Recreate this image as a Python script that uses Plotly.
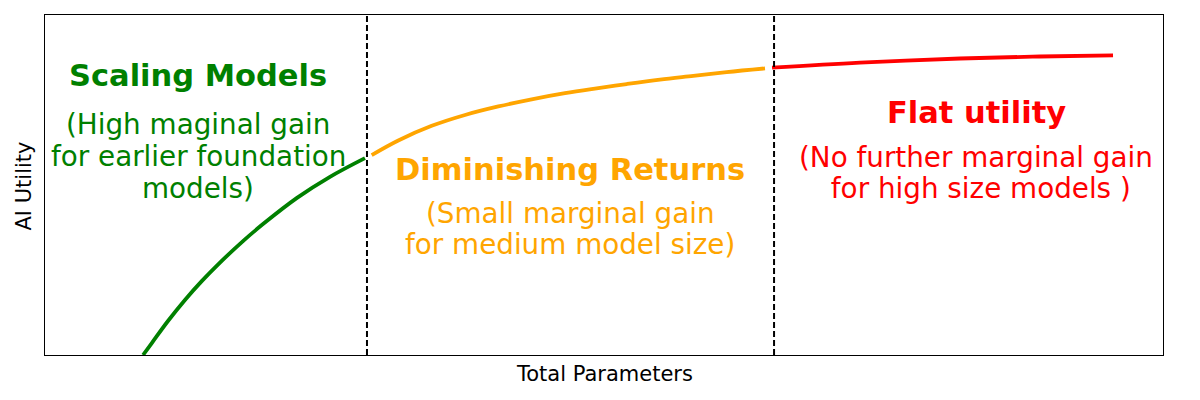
import plotly.graph_objects as go

# Data (x: total parameters, arbitrary units 0-10; y: AI utility 0-1)
green_x = [0.877, 0.957, 1.100, 1.252, 1.404, 1.547, 1.771, 1.950, 2.254, 2.549, 2.862]
green_y = [0.000, 0.036, 0.100, 0.162, 0.218, 0.266, 0.335, 0.385, 0.462, 0.524, 0.579]
orange_x = [2.922, 3.160, 3.459, 3.757, 4.055, 4.353, 4.651, 4.904, 5.203, 5.501, 5.799, 6.097, 6.440]
orange_y = [0.588, 0.631, 0.674, 0.706, 0.731, 0.752, 0.770, 0.783, 0.797, 0.810, 0.821, 0.832, 0.843]
red_x = [6.503, 7.290, 8.184, 8.900, 9.553]
red_y = [0.845, 0.860, 0.872, 0.878, 0.881]
boundaries = [2.880, 6.521]

FONT = "DejaVu Sans"
GREEN, ORANGE, RED = "#008000", "#FFA500", "#FF0000"

fig = go.Figure()
for xs, ys, c in [(green_x, green_y, GREEN), (orange_x, orange_y, ORANGE), (red_x, red_y, RED)]:
    fig.add_trace(go.Scatter(x=xs, y=ys, mode="lines",
                             line=dict(color=c, width=3.8, shape="spline", smoothing=1.0),
                             showlegend=False, hoverinfo="skip"))

for b in boundaries:
    fig.add_shape(type="line", x0=b, x1=b, y0=0, y1=1, xref="x", yref="paper",
                  line=dict(color="black", width=2, dash="6px,3px"))

def px2x(px):
    return (px - 45) / 111.8

def px2y(py):
    return (355 - py) / 340

texts = [
    ("<b>Scaling Models</b>", 198, 75, GREEN, 30.5),
    ("(High maginal gain", 198, 124, GREEN, 27.8),
    ("for earlier foundation", 198, 156, GREEN, 27.8),
    ("models)", 198, 188, GREEN, 27.8),
    ("<b>Diminishing Returns</b>", 570, 169, ORANGE, 30.5),
    ("(Small marginal gain", 570, 213, ORANGE, 27.8),
    ("for medium model size)", 570, 244, ORANGE, 27.8),
    ("<b>Flat utility</b>", 976, 112, RED, 30.5),
    ("(No further marginal gain", 976, 157, RED, 27.8),
    ("\u00a0for high size models )", 976, 188, RED, 27.8),
]
for t, x, y, c, s in texts:
    fig.add_annotation(text=t, x=px2x(x), y=px2y(y), xref="x", yref="y", showarrow=False,
                       xanchor="center", yanchor="middle", font=dict(family=FONT, size=s, color=c))

fig.add_annotation(text="Total Parameters", x=0.5, y=px2y(374), xref="paper", yref="paper",
                   showarrow=False, xanchor="center", yanchor="middle",
                   font=dict(family=FONT, size=21, color="black"))
fig.add_annotation(text="AI Utility", x=(23.5 - 45) / 1118, y=px2y(186), xref="paper", yref="paper",
                   showarrow=False, xanchor="center", yanchor="middle", textangle=-90,
                   font=dict(family=FONT, size=21, color="black"))

axis_common = dict(showgrid=False, zeroline=False, showticklabels=False, ticks="",
                   showline=True, linecolor="black", linewidth=1, mirror=True)
fig.update_layout(
    width=1192, height=392,
    margin=dict(l=37, r=37, t=7, b=45),
    plot_bgcolor="white", paper_bgcolor="white",
    xaxis=dict(range=[0, 10], **axis_common),
    yaxis=dict(range=[0, 1], **axis_common),
    font=dict(family=FONT),
)
fig.write_html("out.html")
